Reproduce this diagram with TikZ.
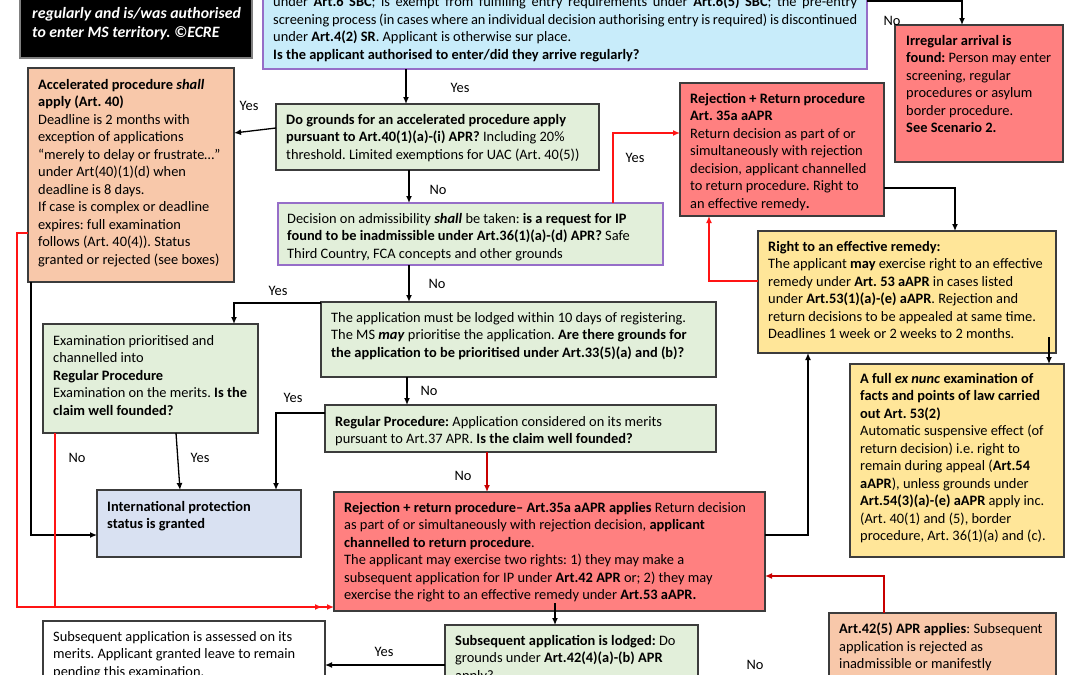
\documentclass[tikz,border=0pt]{standalone}
\usepackage{fontspec}
\setmainfont{Carlito}
\usetikzlibrary{arrows.meta,calc}
\frenchspacing
\definecolor{bluefill}{RGB}{200,236,250}
\definecolor{purp}{RGB}{150,110,200}
\definecolor{redfill}{RGB}{255,128,128}
\definecolor{peach}{RGB}{248,200,170}
\definecolor{greenfill}{RGB}{226,239,218}
\definecolor{ipblue}{RGB}{217,225,242}
\definecolor{yel}{RGB}{255,230,153}
\definecolor{bord}{RGB}{60,60,60}
\definecolor{brightred}{RGB}{255,20,20}
\definecolor{darkred}{RGB}{200,0,0}
\tikzset{
  box/.style={draw=bord, line width=1.3pt, anchor=north west, inner sep=0pt, outer sep=0pt},
  txt/.style={anchor=north west, inner sep=0pt, align=left, font=\fontsize{14.4}{17.5}\selectfont\frenchspacing, execute at begin node=\strut},
  lab/.style={inner sep=0pt, font=\fontsize{14.4}{17.5}\selectfont},
  arr/.style={line width=1.3pt, -{Latex[length=7pt,width=6pt]}},
  redarr/.style={arr, draw=brightred},
  darr/.style={arr, draw=darkred}
}
\begin{document}
\begin{tikzpicture}[x=1pt,y=-1pt]
\useasboundingbox (0,0) rectangle (1080,675);
\clip (0,0) rectangle (1080,675);
\fill[white] (0,0) rectangle (1080,675);
% boxes
\node[box, fill=black, draw=gray, minimum width=232pt, minimum height=80pt] (blk) at (20,-22) {};
\node[box, fill=bluefill, draw=purp, minimum width=604pt, minimum height=99pt] (blue) at (263,-30) {};
\node[box, fill=redfill, minimum width=168pt, minimum height=137pt] (irr) at (895,25) {};
\node[box, fill=redfill, minimum width=204pt, minimum height=133pt] (rej1) at (680,83) {};
\node[box, fill=peach, minimum width=206pt, minimum height=214pt] (acc) at (28,68) {};
\node[box, fill=greenfill, minimum width=323pt, minimum height=66pt] (acq) at (276,104) {};
\node[box, fill=greenfill, draw=purp, minimum width=385pt, minimum height=62pt] (adm) at (278,203) {};
\node[box, fill=greenfill, minimum width=395pt, minimum height=75pt] (pri) at (321,302) {};
\node[box, fill=greenfill, minimum width=215pt, minimum height=109pt] (exa) at (43,324) {};
\node[box, fill=greenfill, minimum width=391pt, minimum height=47pt] (reg) at (325,405) {};
\node[box, fill=ipblue, minimum width=204pt, minimum height=67pt] (ipg) at (97,490) {};
\node[box, fill=redfill, minimum width=431pt, minimum height=119pt] (rej2) at (334,492) {};
\node[box, fill=yel, minimum width=298pt, minimum height=122pt] (rem) at (758,231) {};
\node[box, fill=yel, minimum width=214pt, minimum height=193pt] (exn) at (850,364) {};
\node[box, fill=peach, minimum width=227pt, minimum height=100pt] (akf) at (829,613) {};
\node[box, fill=greenfill, minimum width=253pt, minimum height=100pt] (sub) at (445,625) {};
\node[box, fill=white, minimum width=282pt, minimum height=100pt] (ass) at (43,621) {};
% texts
\node[txt, text=white, font=\fontsize{15.8}{19}\selectfont\bfseries\itshape\frenchspacing] (tblk) at (32,7) {regularly and is/was authorised\\to enter MS territory. \copyright ECRE};
\node[txt] (tblue) at (273,-4) {\makebox[584pt][s]{under \textbf{Art.6 SBC}; is exempt from fulfilling entry requirements under \textbf{Art.6(5) SBC}; the pre-entry}\\
\makebox[584pt][s]{screening process (in cases where an individual decision authorising entry is required) is discontinued}\\
under \textbf{Art.4(2) SR}. Applicant is otherwise sur place.\\
\textbf{Is the applicant authorised to enter/did they arrive regularly?}};
\node[txt] (tirr) at (906,35) {\textbf{Irregular arrival is}\\
\textbf{found:} Person may enter\\
screening, regular\\
procedures or asylum\\
border procedure.\\
\textbf{See Scenario 2.}};
\node[txt] (trej1) at (690,93) {\textbf{Rejection + Return procedure}\\
\textbf{Art. 35a aAPR}\\
Return decision as part of or\\
simultaneously with rejection\\
decision, applicant channelled\\
to return procedure. Right to\\
an effective remedy\textbf{.}};
\node[txt] (tacc) at (38,79) {\textbf{Accelerated procedure \textit{shall}}\\
\textbf{apply (Art. 40)}\\
Deadline is 2 months with\\
exception of applications\\
“merely to delay or frustrate…”\\
under Art(40)(1)(d) when\\
deadline is 8 days.\\
If case is complex or deadline\\
expires: full examination\\
follows (Art. 40(4)). Status\\
granted or rejected (see boxes)};
\node[txt] (tacq) at (286,114) {\textbf{Do grounds for an accelerated procedure apply}\\
\textbf{pursuant to Art.40(1)(a)-(i) APR?} Including 20\%\\
threshold. Limited exemptions for UAC (Art. 40(5))};
\node[txt] (tadm) at (287,213) {Decision on admissibility \textbf{\textit{shall}} be taken: \textbf{is a request for IP}\\
\textbf{found to be inadmissible under Art.36(1)(a)-(d) APR?} Safe\\
Third Country, FCA concepts and other grounds};
\node[txt] (tpri) at (331,312) {The application must be lodged within 10 days of registering.\\
The MS \textbf{\textit{may}} prioritise the application. \textbf{Are there grounds for}\\
\textbf{the application to be prioritised under Art.33(5)(a) and (b)?}};
\node[txt] (texa) at (53,335) {Examination prioritised and\\
channelled into\\
\textbf{Regular Procedure}\\
Examination on the merits. \textbf{Is the}\\
\textbf{claim well founded?}};
\node[txt] (treg) at (335,416) {\textbf{Regular Procedure:} Application considered on its merits\\
pursuant to Art.37 APR. \textbf{Is the claim well founded?}};
\node[txt] (tipg) at (107,501) {\textbf{International protection}\\
\textbf{status is granted}};
\node[txt] (trej2) at (344,502) {\textbf{Rejection + return procedure– Art.35a aAPR applies} Return decision\\
as part of or simultaneously with rejection decision, \textbf{applicant}\\
\textbf{channelled to return procedure}.\\
The applicant may exercise two rights: 1) they may make a\\
subsequent application for IP under \textbf{Art.42 APR} or; 2) they may\\
exercise the right to an effective remedy under \textbf{Art.53 aAPR.}};
\node[txt] (trem) at (768,241) {\textbf{Right to an effective remedy:}\\
The applicant \textbf{may} exercise right to an effective\\
remedy under \textbf{Art. 53 aAPR} in cases listed\\
under \textbf{Art.53(1)(a)-(e) aAPR}. Rejection and\\
return decisions to be appealed at same time.\\
Deadlines 1 week or 2 weeks to 2 months.};
\node[txt] (texn) at (860,373) {\textbf{A full \textit{ex nunc} examination of}\\
\textbf{facts and points of law carried}\\
\textbf{out Art. 53(2)}\\
Automatic suspensive effect (of\\
return decision) i.e. right to\\
remain during appeal (\textbf{Art.54}\\
\textbf{aAPR}), unless grounds under\\
\textbf{Art.54(3)(a)-(e) aAPR} apply inc.\\
(Art. 40(1) and (5), border\\
procedure, Art. 36(1)(a) and (c).};
\node[txt] (takf) at (839,623) {\textbf{Art.42(5) APR applies}: Subsequent\\
application is rejected as\\
inadmissible or manifestly};
\node[txt] (tsub) at (455,635) {\textbf{Subsequent application is lodged:} Do\\
grounds under \textbf{Art.42(4)(a)-(b) APR}\\
apply?};
\node[txt] (tass) at (53,631) {Subsequent application is assessed on its\\
merits. Applicant granted leave to remain\\
pending this examination.};
% connectors
\draw[arr] ($(blue.north east)+(0,31)$) -| ($(irr.north west)+(67,0)$);
\draw[arr] ($(blue.south west)+(143,0)$) -- ($(acq.north west)+(130,0)$);
\draw[arr] ($(acq.north west)+(0,24)$) -- ($(acc.north east)+(0,65)$);
\draw[arr] ($(acq.south west)+(133,0)$) -- ($(adm.north west)+(131,0)$);
\draw[redarr] ($(adm.north west)+(335,0)$) |- ($(rej1.north west)+(0,50)$);
\draw[arr] ($(rej1.north east)+(0,105)$) -| ($(rem.north west)+(197,0)$);
\draw[arr] ($(adm.south west)+(131,0)$) -- ($(pri.north west)+(88,0)$);
\draw[arr] ($(pri.north west)+(0,1)$) -| ($(exa.north west)+(191,0)$);
\draw[arr] ($(pri.south west)+(86,0)$) -- ($(reg.north west)+(82,0)$);
\draw[arr] ($(exa.south west)+(133,0)$) -- ($(ipg.north west)+(83,0)$);
\draw[arr] ($(reg.north west)+(0,8)$) -| ($(ipg.north west)+(179,0)$);
\draw[arr] ($(acc.south west)+(3,0)$) |- ($(ipg.north west)+(0,45)$);
\draw[redarr] ($(exa.south west)+(12,0)$) |- ($(rej2.north west)+(-12,115)$);
\draw[redarr] ($(acc.north west)+(0,165)$) -- ++(-11,0) |- ($(rej2.north west)+(0,115)$);
\draw[darr] ($(reg.south west)+(162,0)$) -- ($(rej2.north west)+(153,0)$);
\draw[arr] ($(rej2.north east)+(0,43)$) -| ($(rem.south west)+(50,0)$);
\draw[redarr] ($(rem.north west)+(0,50)$) -| ($(rej1.south west)+(29,0)$);
\draw[arr] ($(rem.north west)+(291,106)$) -- ($(exn.north west)+(199,0)$);
\draw[darr] ($(akf.north west)+(55,0)$) |- ($(rej2.north east)+(0,84)$);
\draw[arr] ($(rej2.north west)+(221,111)$) -- ($(sub.north west)+(110,0)$);
\draw[arr] ($(sub.north west)+(0,40)$) -- ($(ass.north east)+(0,44)$);
% labels
\node[lab] (l1) at (892,21) {No};
\node[lab] (l2) at (460,88) {Yes};
\node[lab] (l3) at (249,106) {Yes};
\node[lab] (l4) at (635,158) {Yes};
\node[lab] (l5) at (438,190) {No};
\node[lab] (l6) at (437,284) {No};
\node[lab] (l7) at (278,291) {Yes};
\node[lab] (l8) at (429,391) {No};
\node[lab] (l9) at (293,398) {Yes};
\node[lab] (l10) at (77,458) {No};
\node[lab] (l11) at (200,458) {Yes};
\node[lab] (l12) at (463,476) {No};
\node[lab] (l13) at (384,652) {Yes};
\node[lab] (l14) at (755,665) {No};
\end{tikzpicture}
\end{document}
